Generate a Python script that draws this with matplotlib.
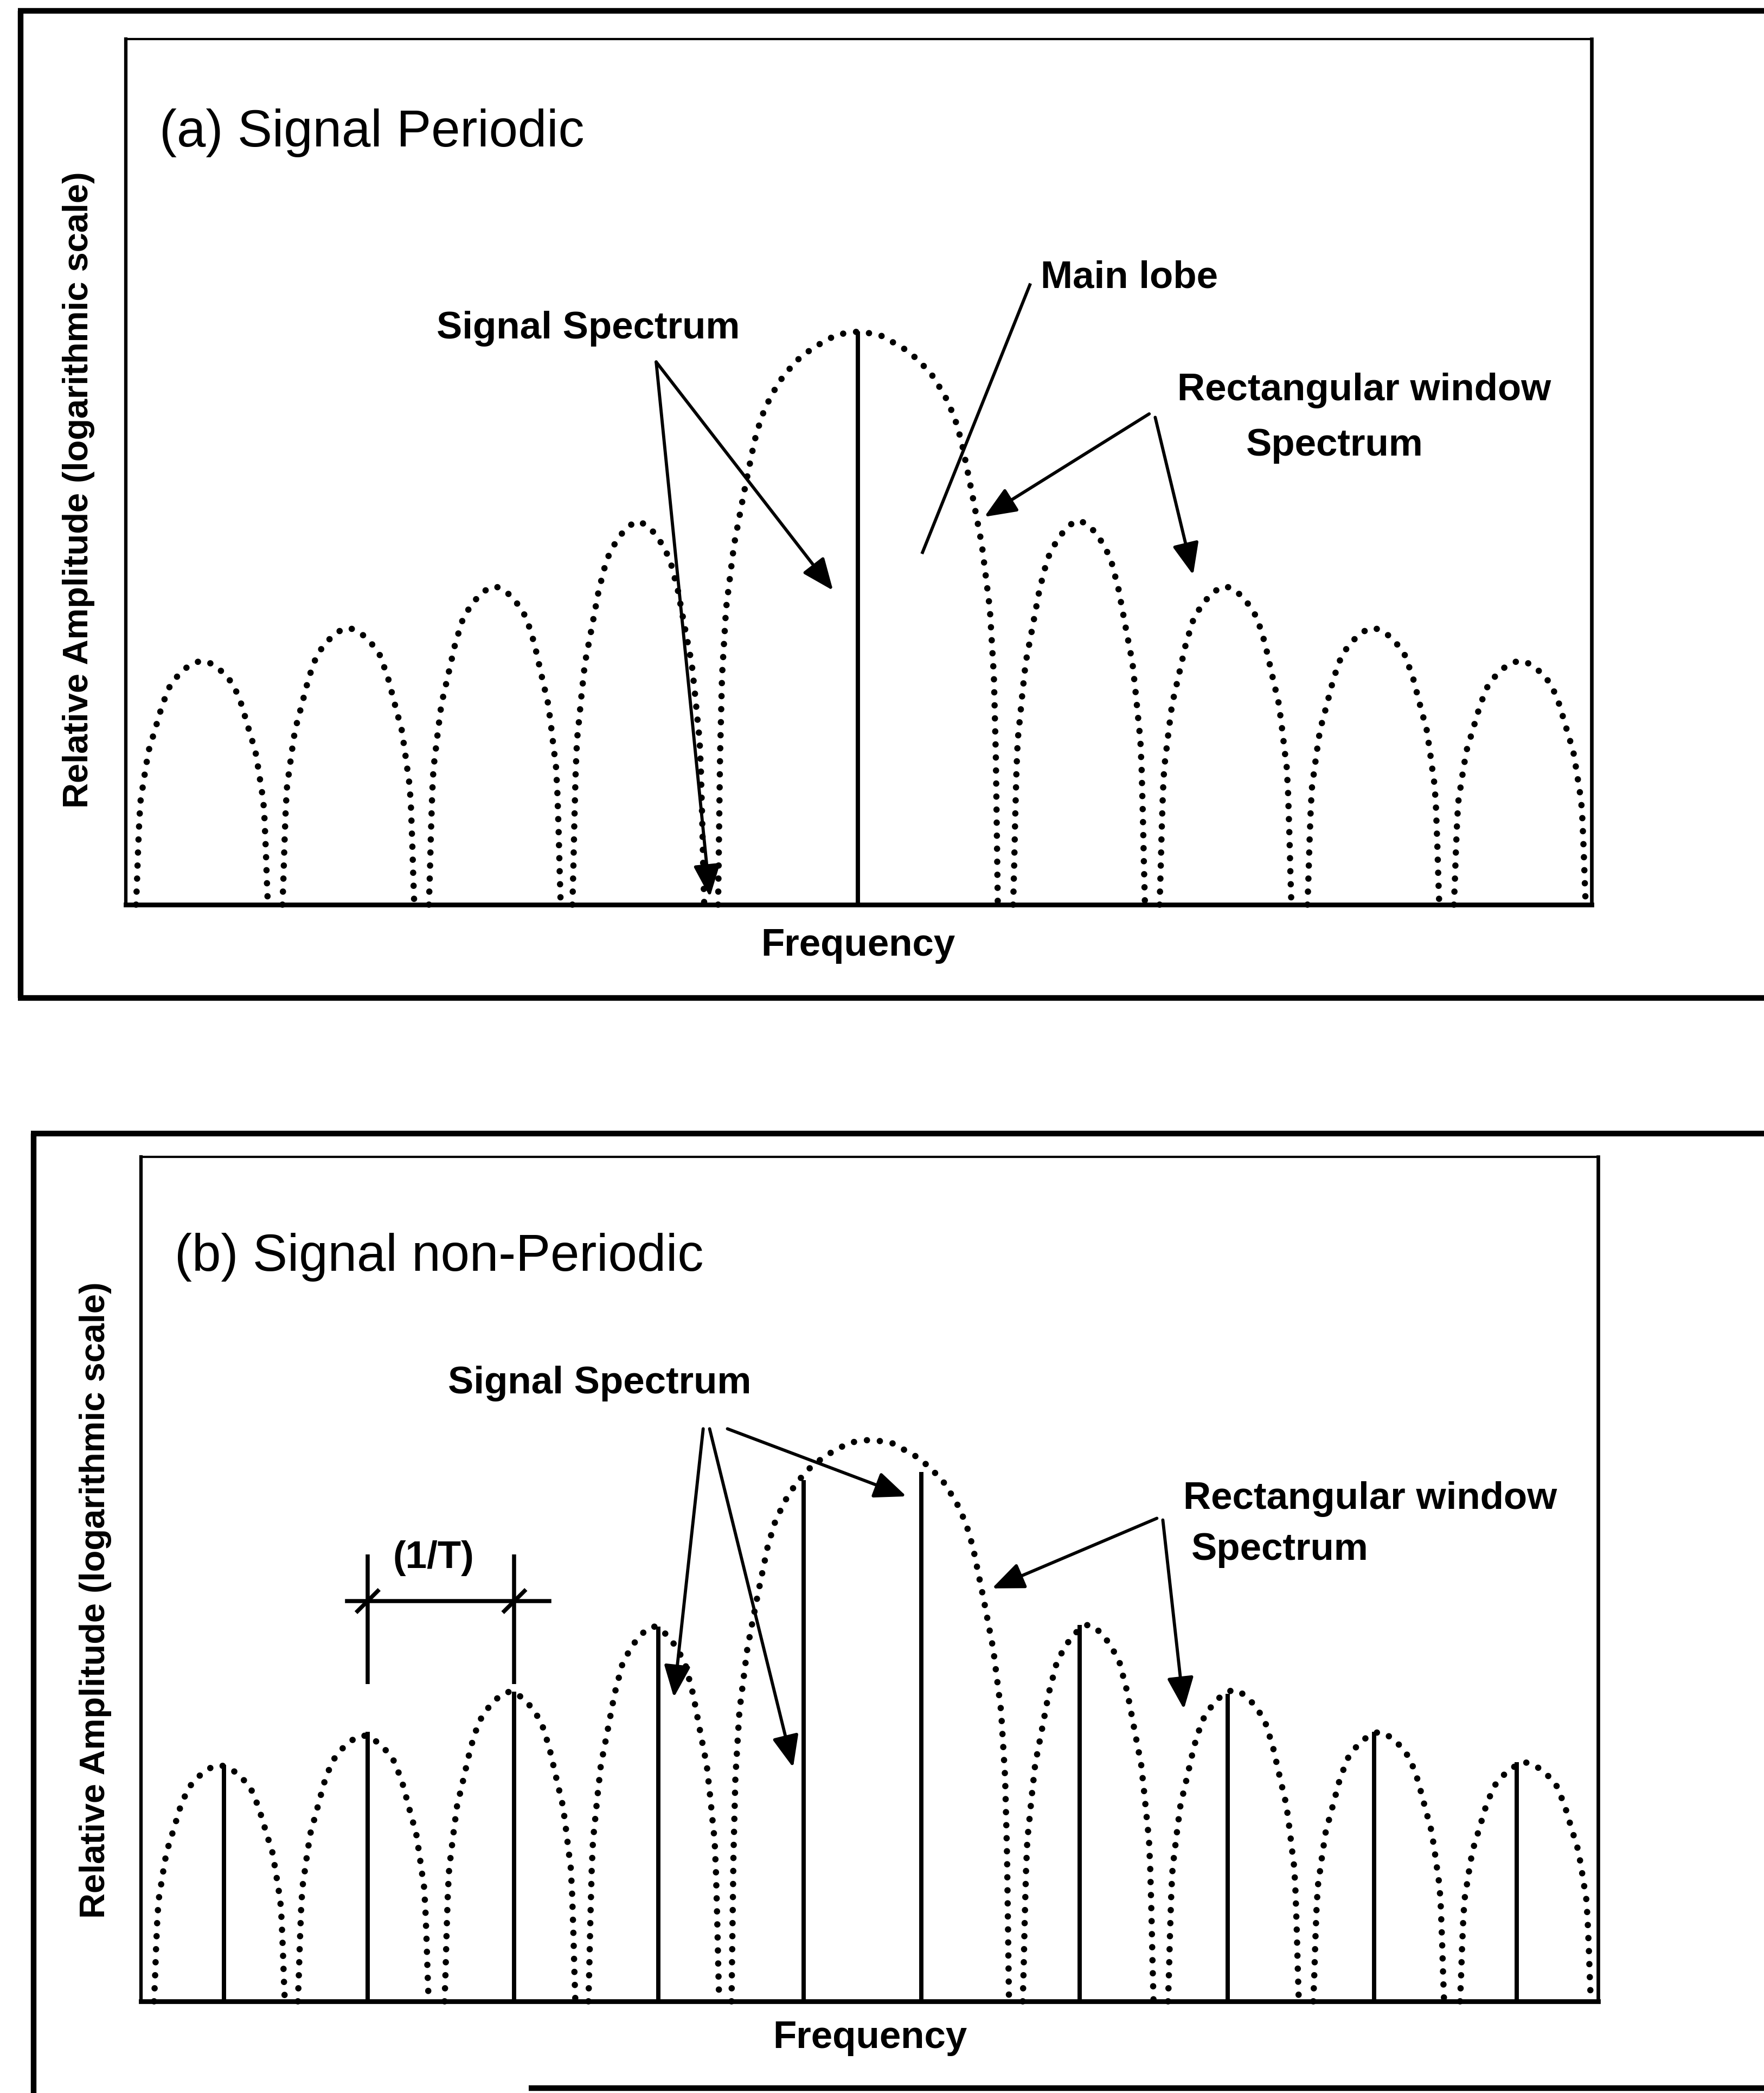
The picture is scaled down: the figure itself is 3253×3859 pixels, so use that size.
import numpy as np
import matplotlib
matplotlib.use("Agg")
import matplotlib.pyplot as plt
from matplotlib.lines import Line2D

plt.rcParams['font.family'] = ['Liberation Sans', 'DejaVu Sans']

# lobe outline: offset from lobe centre (in half widths) vs fraction of the lobe peak
side_u = [0.0, 0.12, 0.24, 0.36, 0.48, 0.60, 0.72, 0.81, 0.86, 0.90, 0.93, 0.95, 0.97, 0.985, 1.0]
side_f = [1.0, 0.99, 0.97, 0.94, 0.90, 0.82, 0.71, 0.63, 0.55, 0.48, 0.43, 0.35, 0.22, 0.10, 0.0]
main_u = [0.0, 0.15, 0.32, 0.43, 0.53, 0.62, 0.69, 0.74, 0.815, 0.886, 0.943, 0.972, 0.986, 1.0]
main_f = [1.0, 0.995, 0.972, 0.951, 0.924, 0.889, 0.851, 0.809, 0.719, 0.628, 0.517, 0.399, 0.26, 0.0]

lobe_half = [0.45, 0.45, 0.45, 0.45, 0.955, 0.45, 0.45, 0.45, 0.45]
main_idx = 4

# (a) periodic signal
a_lobe_x = [-4.48, -3.48, -2.48, -1.50, 0.0, 1.51, 2.51, 3.52, 4.52]
a_lobe_peak = [28.2, 32.0, 36.8, 44.3, 66.2, 44.4, 36.8, 32.0, 28.2]
a_line_x = [0.0]
a_line_h = [66.2]

# (b) non-periodic signal
b_lobe_x = [-4.49, -3.50, -2.49, -1.50, -0.01, 1.49, 2.49, 3.49, 4.50]
b_lobe_peak = [28.0, 31.5, 36.7, 44.4, 66.5, 44.6, 36.9, 31.9, 28.3]
b_line_x = [-4.46, -3.47, -2.46, -1.47, -0.47, 0.34, 1.43, 2.45, 3.46, 4.44]
b_line_h = [28.0, 31.9, 36.7, 44.4, 61.7, 62.7, 44.6, 36.4, 31.9, 28.3]

W, H = 3253, 3859
DPI = 300
fig = plt.figure(figsize=(W / DPI, H / DPI), dpi=DPI)
fig.patch.set_facecolor('white')


def px_box(left, top, right, bottom):
    return [left / W, 1 - bottom / H, (right - left) / W, (bottom - top) / H]


def frame_line(xs, ys, lw=2.5):
    fig.add_artist(Line2D(np.array(xs) / W, 1 - np.array(ys) / H,
                          transform=fig.transFigure, color='black', lw=lw,
                          solid_capstyle='butt'))


def lobe_xy(c, peak, half, main):
    u = np.array(main_u if main else side_u)
    f = np.array(main_f if main else side_f)
    uu = np.concatenate([-u[::-1], u[1:]])
    ff = np.concatenate([f[::-1], f[1:]])
    return c + half * uu, peak * ff


def pointer(ax, start, tip):
    ax.annotate('', xy=tip, xytext=start,
                arrowprops=dict(arrowstyle='-|>,head_length=1.2,head_width=0.5',
                                mutation_scale=10, lw=1.4, color='black',
                                shrinkA=0, shrinkB=0))


def setup(ax, xlim):
    ax.set_xlim(*xlim)
    ax.set_ylim(0, 100)
    ax.set_xticks([])
    ax.set_yticks([])
    ax.spines['top'].set_linewidth(1.0)
    ax.spines['left'].set_linewidth(1.5)
    ax.spines['right'].set_linewidth(1.6)
    ax.spines['bottom'].set_linewidth(2.1)


def draw_lobes(ax, xs, peaks):
    for i, (c, p) in enumerate(zip(xs, peaks)):
        lx, ly = lobe_xy(c, p, lobe_half[i], i == main_idx)
        ax.plot(lx, ly, color='black', lw=2.8, linestyle=(0, (0.01, 2.05)),
                dash_capstyle='round', clip_on=False)


label_kw = dict(fontsize=17, fontweight='bold', ha='center', va='baseline')
ylab_kw = dict(fontsize=15.6, fontweight='bold', rotation=90, ha='center', va='center')

# ---- panel (a)
frame_line([38, 38], [20, 1840])
frame_line([33, W], [20, 20])
frame_line([33, W], [1840, 1840])

ax1 = fig.add_axes(px_box(232, 72, 2935, 1668))
setup(ax1, (-5.0, 5.01))
draw_lobes(ax1, a_lobe_x, a_lobe_peak)
ax1.vlines(a_line_x, 0, a_line_h, color='black', lw=1.9)

ax1.text(-4.77, 87.6, '(a) Signal Periodic', fontsize=23, ha='left', va='baseline')
ax1.text(-1.844, 65.4, 'Signal Spectrum', **label_kw)
pointer(ax1, (-1.378, 62.7), (-0.170, 36.3))
pointer(ax1, (-1.378, 62.7), (-1.011, 0.9))
ax1.text(1.248, 71.3, 'Main lobe', fontsize=17, fontweight='bold', ha='left', va='baseline')
ax1.plot([1.174, 0.441], [71.6, 40.7], color='black', lw=1.4)
ax1.text(3.456, 58.3, 'Rectangular window', **label_kw)
ax1.text(3.256, 51.9, 'Spectrum', **label_kw)
pointer(ax1, (1.989, 56.7), (0.863, 44.8))
pointer(ax1, (2.030, 56.3), (2.289, 38.1))
ax1.text(0.0, -5.9, 'Frequency', **label_kw)
ax1.text(-5.322, 47.9, 'Relative Amplitude (logarithmic scale)', **ylab_kw)

# ---- panel (b)
frame_line([62, 62], [2090, H])
frame_line([57, W], [2090, 2090])
frame_line([975, W], [3850, 3850])

ax2 = fig.add_axes(px_box(260, 2133, 2947, 3690))
setup(ax2, (-5.03, 5.0))
draw_lobes(ax2, b_lobe_x, b_lobe_peak)
ax2.vlines(b_line_x, 0, b_line_h, color='black', lw=1.9)

ax2.text(-4.799, 86.5, '(b) Signal non-Periodic', fontsize=23, ha='left', va='baseline')
ax2.text(-1.873, 72.0, 'Signal Spectrum', **label_kw)
pointer(ax2, (-1.160, 67.8), (-1.362, 36.0))
pointer(ax2, (-1.116, 67.8), (-0.541, 27.7))
pointer(ax2, (-0.993, 67.8), (0.239, 59.8))
ax2.text(3.429, 58.3, 'Rectangular window', **label_kw)
ax2.text(2.810, 52.3, 'Spectrum', **label_kw)
pointer(ax2, (1.963, 57.2), (0.828, 48.9))
pointer(ax2, (2.004, 57.0), (2.149, 34.6))
ax2.text(-0.011, -5.5, 'Frequency', **label_kw)
ax2.text(-5.343, 47.5, 'Relative Amplitude (logarithmic scale)', **ylab_kw)

# spacing marker between two neighbouring lines
dim_y = 47.4
x_left, x_right = b_line_x[1], b_line_x[2]
ax2.vlines([x_left, x_right], 37.6, 52.9, color='black', lw=1.8)
ax2.plot([x_left - 0.14, x_right + 0.24], [dim_y, dim_y], color='black', lw=1.8)
for xm in (x_left, x_right):
    ax2.plot([xm - 0.07, xm + 0.07], [dim_y - 1.2, dim_y + 1.2], color='black', lw=1.8)
ax2.text(-3.015, 52.5, '(1/T)', fontsize=17, fontweight='bold', ha='center', va='center')

fig.savefig('out.png', dpi=DPI, facecolor='white')
